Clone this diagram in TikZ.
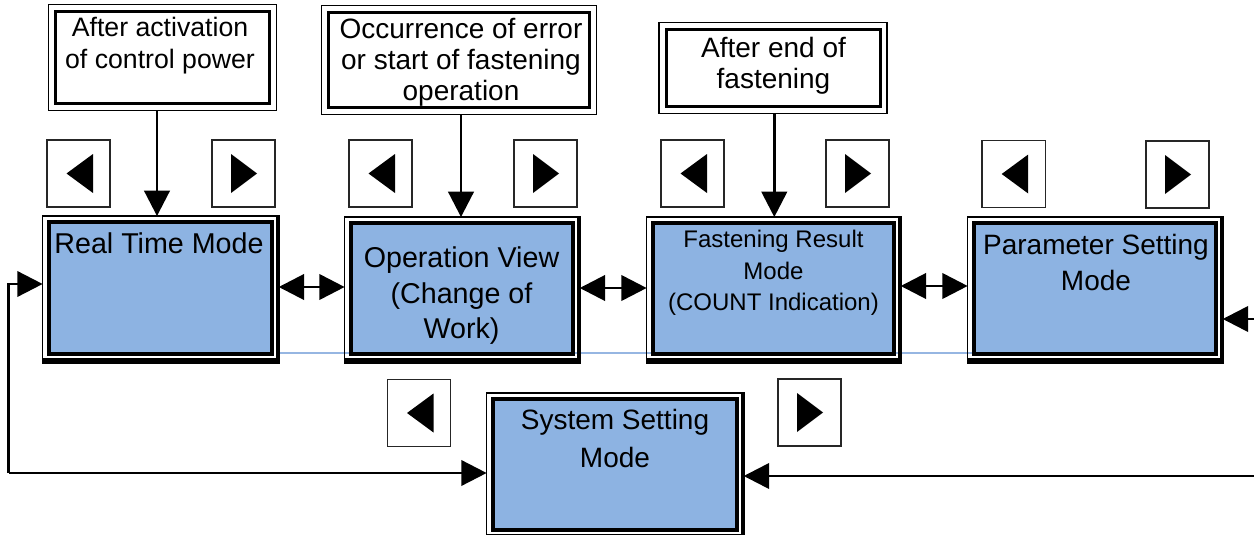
\documentclass[tikz,border=0pt]{standalone}
\usepackage{fontspec}
\setmainfont{Liberation Sans}
\usetikzlibrary{arrows.meta}
\definecolor{boxblue}{RGB}{141,179,226}
\definecolor{lineblue}{RGB}{150,182,226}
\begin{document}
\begin{tikzpicture}[x=0.75pt,y=-0.75pt,
  mainbox/.style 2 args={draw, line width=2.5pt, fill=boxblue, inner sep=0pt,
    minimum width=#1*0.75pt, minimum height=#2*0.75pt},
  topbox/.style 2 args={draw, line width=2.2pt, fill=white, inner sep=0pt,
    minimum width=#1*0.75pt, minimum height=#2*0.75pt},
  keybox/.style={draw=black!85, line width=1.1pt, fill=white, inner sep=0pt,
    minimum width=47.5pt, minimum height=50.5pt},
  txt/.style={align=center, inner sep=0pt, text=black},
  tip/.tip={Triangle[length=19pt,width=19pt]},
  conn/.style={line width=2.2pt, -tip},
  dconn/.style={line width=2.2pt, tip-tip},
]
\useasboundingbox (0,0) rectangle (1254,535);

% faint horizontal guide line behind the boxes
\coordinate (gl1) at (277,353);
\coordinate (gl2) at (1218,353);
\draw[lineblue, line width=0.8pt] (gl1) -- (gl2);

% ---------- top condition boxes ----------
\node[topbox={214}{92}] (c1) at (162.5,57.5) {};
\node[topbox={261}{95}] (c2) at (459,60) {};
\node[topbox={214}{77}] (c3) at (773.3,68) {};
\foreach \n in {c1,c2,c3}{
  \draw[line width=1.4pt] ([shift={(-5.5,-5.5)}]\n.north west) rectangle ([shift={(5.5,5.5)}]\n.south east);
}
\node[txt, font=\fontsize{20}{24}\selectfont] (tc1) at (160,45.5) {After activation\\of control power};
\node[txt, font=\fontsize{21}{23.3}\selectfont] (tc2) at (461,62.5) {Occurrence of error\\or start of fastening\\operation};
\node[txt, font=\fontsize{21}{23.3}\selectfont] (tc3) at (773.5,65.5) {After end of\\fastening};

% ---------- main mode boxes ----------
\node[mainbox={223}{132}] (rt) at (160.5,288) {};
\node[mainbox={222}{131}] (ov) at (462,288.5) {};
\node[mainbox={241}{131}] (fr) at (773.5,288.5) {};
\node[mainbox={242}{131}] (ps) at (1095,288.5) {};
\node[mainbox={244}{131}] (ss) at (615,464.5) {};
\foreach \n in {rt,ov,fr,ps,ss}{
  \draw[line width=1.1pt] ([shift={(-4.7,-4.3)}]\n.north west) rectangle ([shift={(4.7,5.2)}]\n.south east);
  \fill ([shift={(2.8,-5)}]\n.north east) rectangle ([shift={(6.8,8)}]\n.south east);
  \fill ([shift={(-5.3,2.8)}]\n.south west) rectangle ([shift={(6.8,8)}]\n.south east);
}
\node[txt, font=\fontsize{21.5}{26.5}\selectfont] (trt) at (159,243) {Real Time Mode};
\node[txt, font=\fontsize{21.5}{26.6}\selectfont] (tov) at (461.5,296) {Operation View\\(Change of\\Work)};
\node[txt, font=\fontsize{18}{23.6}\selectfont] (tfr) at (773.5,273) {Fastening Result\\Mode\\(COUNT Indication)};
\node[txt, font=\fontsize{21}{27.7}\selectfont] (tps) at (1096,262.5) {Parameter Setting\\Mode};
\node[txt, font=\fontsize{21}{28.5}\selectfont] (tss) at (615,438) {System Setting\\Mode};

% ---------- key boxes with triangles ----------
\foreach \n/\x/\y in {k1l/78.5/173.5, k2l/380.5/173.5, k3l/692.5/173.5, k4l/1013.7/174, k5l/419/413}{
  \node[keybox] (\n) at (\x,\y) {};
  \fill ([shift={(-12,0)}]\n.center) -- ([shift={(14.5,-19.5)}]\n.center) -- ([shift={(14.5,19.5)}]\n.center) -- cycle;
}
\foreach \n/\x/\y in {k1r/243.5/173.5, k2r/545.5/173.5, k3r/857.5/173.5, k4r/1177.5/174.5, k5r/809.5/412.5}{
  \node[keybox] (\n) at (\x,\y) {};
  \fill ([shift={(13.5,0)}]\n.center) -- ([shift={(-12.5,-19.5)}]\n.center) -- ([shift={(-12.5,19.5)}]\n.center) -- cycle;
}

% ---------- connectors ----------
\coordinate (x1) at (157,0);
\coordinate (x2) at (461,0);
\coordinate (x3) at (774.3,0);
\draw[conn] ([yshift=-4.1pt]x1 |- c1.south) -- ([yshift=3.2pt]x1 |- rt.north);
\draw[conn] ([yshift=-4.1pt]x2 |- c2.south) -- ([yshift=3.2pt]x2 |- ov.north);
\draw[conn] ([yshift=-4.1pt]x3 |- c3.south) -- ([yshift=3.2pt]x3 |- fr.north);

\coordinate (y1) at (0,287);
\coordinate (y2) at (0,288);
\coordinate (y3) at (0,286);
\draw[dconn] ([xshift=3.8pt]rt.east |- y1) -- ([xshift=-3.5pt]ov.west |- y1);
\draw[dconn] ([xshift=3.8pt]ov.east |- y2) -- ([xshift=-3.5pt]fr.west |- y2);
\draw[dconn] ([xshift=3.8pt]fr.east |- y3) -- ([xshift=-3.5pt]ps.west |- y3);

% left loop between system setting and real time
\coordinate (lp1) at (8.7,473);
\coordinate (lp2) at (8.7,284);
\draw[line width=2pt, -tip] (lp1) -- (lp2) -- ([xshift=-3.5pt]rt.west |- lp2);
\draw[line width=2pt, -tip] (lp1) -- ([xshift=-3.5pt]ss.west |- lp1);
% right incoming lines
\coordinate (rp1) at (1256,476);
\coordinate (rp2) at (1256,319);
\draw[line width=2pt, -tip] (rp1) -- ([xshift=3.8pt]ss.east |- rp1);
\draw[line width=2pt, -tip] (rp2) -- ([xshift=3.8pt]ps.east |- rp2);
\end{tikzpicture}
\end{document}
